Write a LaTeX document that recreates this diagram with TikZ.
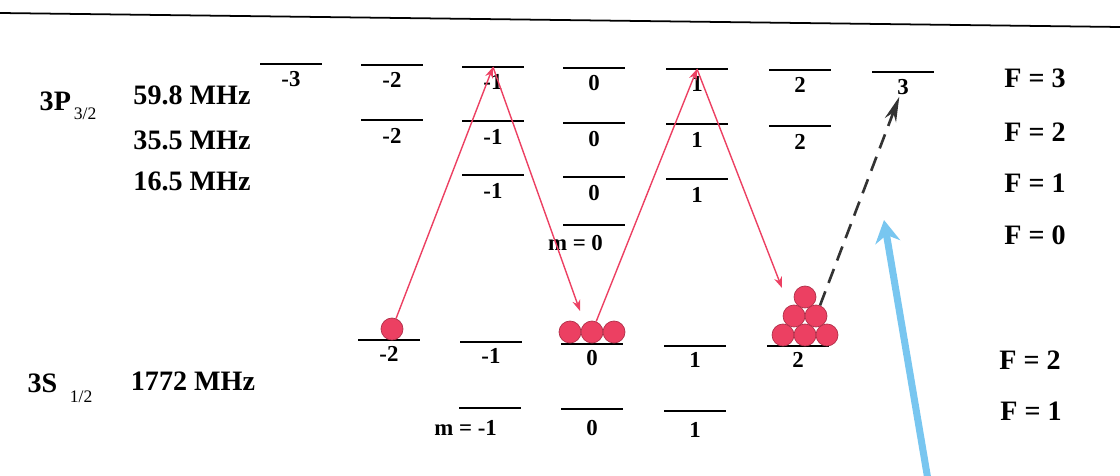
\documentclass[tikz,border=0pt]{standalone}
\usepackage{fontspec}
\setmainfont{Liberation Serif}
\usetikzlibrary{arrows.meta,positioning,calc}
\definecolor{atomred}{RGB}{236,64,98}
\definecolor{beamblue}{RGB}{120,198,240}

\begin{document}
\begin{tikzpicture}[
  x=0.02cm,y=-0.02cm,
  font=\fontsize{16}{18}\selectfont\bfseries,
  lvl/.style={line width=1.1pt},
  mlab/.style={font=\fontsize{13}{15}\selectfont\bfseries, inner sep=1pt},
  flab/.style={inner sep=1pt},
  atom/.style={circle, fill=atomred, draw=atomred!75!black, line width=0.4pt, minimum size=0.44cm, inner sep=0pt},
  pump/.style={-{Stealth[length=2.2mm,width=1.6mm]}, draw=atomred, line width=0.8pt},
  probe/.style={-{Stealth[length=5mm,width=2.4mm]}, draw=black!80, line width=1.5pt, dash pattern=on 0.3cm off 0.18cm},
  beam/.style={-{Stealth[length=4.5mm,width=5mm]}, draw=beamblue, line width=4pt},
]
\useasboundingbox (0,0) rectangle (1120,476);
\draw[line width=1pt] (0,13) -- (1120,27);

%% ---------- 3P3/2 ----------
\node[flab] (P) at (68,106) {3P\raisebox{-0.7ex}{\fontsize{10}{12}\selectfont\mdseries\,3/2}};
\node[flab] (hf3) at (192,95)  {59.8 MHz};
\node[flab] (hf2) at (192,140) {35.5 MHz};
\node[flab] (hf1) at (192,181) {16.5 MHz};
\foreach \n/\x/\y/\m in {P3mm3/291/64/-3, P3mm2/392/65/-2, P3mm1/493/67/-1, P3m0/594/68/0,
                         P3m1/697/69/1, P3m2/800/70/2, P3m3/903/72/3}
  {\coordinate (\n) at (\x,\y);
   \draw[lvl] (\x-31,\y) -- (\x+31,\y);
   \node[mlab] (l\n) at (\x,\y+15) {\m};}
\foreach \n/\x/\y/\m in {P2mm2/392/120/-2, P2mm1/493/121/-1, P2m0/594/123/0, P2m1/697/124/1, P2m2/800/126/2}
  {\coordinate (\n) at (\x,\y);
   \draw[lvl] (\x-31,\y) -- (\x+31,\y);
   \node[mlab] (l\n) at (\x,\y+16) {\m};}
\foreach \n/\x/\y/\m in {P1mm1/493/175/-1, P1m0/594/177/0, P1m1/697/179/1}
  {\coordinate (\n) at (\x,\y);
   \draw[lvl] (\x-31,\y) -- (\x+31,\y);
   \node[mlab] (l\n) at (\x,\y+16) {\m};}
\coordinate (P0m0) at (594,225);
\draw[lvl] (563,225) -- (625,225);
\node[mlab, anchor=east] (lP0m0) at (605,243) {m = 0};
\node[flab] (F3) at (1035,78)  {F = 3};
\node[flab] (F2) at (1035,132) {F = 2};
\node[flab] (F1) at (1035,183) {F = 1};
\node[flab] (F0) at (1035,235) {F = 0};

%% ---------- 3S1/2 ----------
\node[flab] (S) at (60,388) {3S\hspace{0.45em}\raisebox{-0.8ex}{\fontsize{10}{12}\selectfont\mdseries 1/2}};
\node[flab] (hfS) at (193,381) {1772 MHz};
\foreach \n/\x/\y/\m in {S2mm2/389/340/-2, S2mm1/491/342/-1, S2m0/592/344/0, S2m1/695/346/1, S2m2/798/346/2}
  {\coordinate (\n) at (\x,\y);
   \draw[lvl] (\x-31,\y) -- (\x+31,\y);
   \node[mlab] (l\n) at (\x,\y+14) {\m};}
\foreach \n/\x/\y/\m in {S1m0/592/409/0, S1m1/695/411/1}
  {\coordinate (\n) at (\x,\y);
   \draw[lvl] (\x-31,\y) -- (\x+31,\y);
   \node[mlab] (l\n) at (\x,\y+19) {\m};}
\coordinate (S1mm1) at (490,408);
\draw[lvl] (459,408) -- (521,408);
\node[mlab, anchor=east] (lS1mm1) at (499,428) {m = -1};
\node[flab] (SF2) at (1030,360) {F = 2};
\node[flab] (SF1) at (1031,411) {F = 1};

%% ---------- ATOMS ----------
\node[atom] (a1) at (392,329) {};
\node[atom] (b1) at (570,332) {};
\node[atom] (b2) at (592,332) {};
\node[atom] (b3) at (614,332) {};
\node[atom] (c1) at (783,335) {};
\node[atom] (c2) at (805,335) {};
\node[atom] (c3) at (827,335) {};
\node[atom] (c4) at (794,316) {};
\node[atom] (c5) at (816,316) {};
\node[atom] (c6) at (805,297) {};

%% ---------- TRANSITIONS ----------
\coordinate (dropB) at (580,311);
\coordinate (dropC) at (782,288);
\draw[pump] (a1) -- (P3mm1);
\draw[pump] (P3mm1) -- (dropB);
\draw[pump] (b2) -- (P3m1);
\draw[pump] (P3m1) -- (dropC);
\draw[probe] (c5) -- (lP3m3);
\coordinate (beamin) at (928,480);
\coordinate (beamtip) at (884,220);
\draw[beam] (beamin) -- (beamtip);
\end{tikzpicture}
\end{document}
